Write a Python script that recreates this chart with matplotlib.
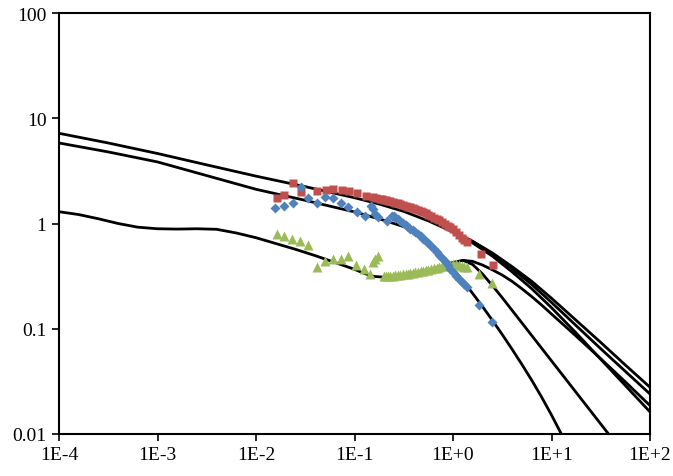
import numpy as np
import matplotlib.pyplot as plt

# model curves, stored as log10(x), log10(y)
# upper curve: common part, then three branches
a_lx = [-4, -3.5, -3, -2.5, -2, -1.5, -1, -0.75, -0.5, -0.25, 0]
a_ly = [0.857, 0.765, 0.665, 0.557, 0.45, 0.35, 0.245, 0.185, 0.115, 0.025, -0.08]
br_lx = [0, 0.2, 0.4, 0.6, 0.8, 1.0, 1.25, 1.5, 1.75, 2.0]
a1_ly = [-0.08, -0.17, -0.28, -0.41, -0.55, -0.71, -0.92, -1.13, -1.345, -1.556]
a2_ly = [-0.08, -0.17, -0.29, -0.43, -0.58, -0.75, -0.97, -1.19, -1.405, -1.62]
a3_ly = [-0.08, -0.185, -0.31, -0.46, -0.62, -0.80, -1.04, -1.29, -1.54, -1.79]

# middle curve, drops off steeply past 1
b_lx = [-4, -3.5, -3, -2.5, -2, -1.5, -1, -0.7, -0.5, -0.4, -0.3, -0.2, -0.1, 0,
        0.1, 0.2, 0.3, 0.4, 0.5, 0.6, 0.7, 0.8, 0.9, 1.0, 1.1, 1.2]
b_ly = [0.765, 0.68, 0.585, 0.455, 0.325, 0.22, 0.11, 0.03, -0.03, -0.07, -0.135,
        -0.22, -0.32, -0.43, -0.545, -0.665, -0.79, -0.92, -1.055, -1.195, -1.34,
        -1.49, -1.65, -1.82, -2.0, -2.19]

# lower curve with plateau and hump, then two branches
c_lx = [-4, -3.8, -3.6, -3.4, -3.2, -3, -2.8, -2.6, -2.4, -2.2, -2, -1.8, -1.6, -1.4,
        -1.2, -1, -0.9, -0.8, -0.7, -0.6, -0.5, -0.4, -0.3, -0.2, -0.1, 0, 0.1]
c_ly = [0.112, 0.085, 0.045, 0.0, -0.035, -0.05, -0.053, -0.05, -0.055, -0.09, -0.135,
        -0.19, -0.245, -0.305, -0.37, -0.435, -0.475, -0.503, -0.51, -0.505, -0.495,
        -0.48, -0.46, -0.43, -0.40, -0.37, -0.35]
c1_lx = [0.1, 0.2, 0.3, 0.4, 0.5, 0.6, 0.7, 0.8, 0.9, 1.0, 1.25, 1.5, 1.75, 2.0]
c1_ly = [-0.35, -0.36, -0.395, -0.44, -0.49, -0.55, -0.62, -0.695, -0.775, -0.86,
         -1.07, -1.285, -1.505, -1.73]
c2_lx = [0.1, 0.2, 0.3, 0.4, 0.5, 0.75, 1.0, 1.25, 1.5, 1.6, 1.7]
c2_ly = [-0.35, -0.39, -0.48, -0.59, -0.705, -1.005, -1.305, -1.605, -1.905, -2.025, -2.145]

# measured data
red_x = [0.0162, 0.0194, 0.024, 0.0286, 0.0419, 0.0513, 0.061, 0.0741, 0.0881, 0.105,
         0.131, 0.155, 0.165, 0.18, 0.19, 0.2, 0.21, 0.22, 0.23, 0.245, 0.26, 0.275,
         0.29, 0.31, 0.33, 0.35, 0.37, 0.39, 0.41, 0.44, 0.47, 0.5, 0.53, 0.56, 0.6,
         0.64, 0.68, 0.72, 0.77, 0.82, 0.88, 0.94, 1.0, 1.07, 1.14, 1.22, 1.3, 1.38,
         1.91, 2.57]
red_y = [1.73, 1.87, 2.41, 1.98, 2.02, 2.08, 2.13, 2.08, 2.02, 1.95,
         1.84, 1.77, 1.75, 1.72, 1.70, 1.68, 1.66, 1.64, 1.62, 1.60, 1.57, 1.55,
         1.53, 1.51, 1.48, 1.45, 1.42, 1.40, 1.38, 1.35, 1.31, 1.28, 1.25, 1.21, 1.17,
         1.13, 1.10, 1.07, 1.04, 1.00, 0.95, 0.92, 0.88, 0.83, 0.78, 0.73, 0.69, 0.66,
         0.51, 0.404]

blue_x = [0.0156, 0.0191, 0.0235, 0.0286, 0.0339, 0.0413, 0.0501, 0.0603, 0.0724,
          0.0865, 0.105, 0.128, 0.147, 0.153, 0.162, 0.174, 0.212, 0.238, 0.25, 0.26,
          0.275, 0.29, 0.31, 0.33, 0.35, 0.37, 0.39, 0.41, 0.44, 0.47, 0.5, 0.53, 0.56,
          0.6, 0.64, 0.68, 0.72, 0.77, 0.82, 0.88, 0.94, 1.0, 1.07, 1.14, 1.22, 1.3,
          1.38, 1.85, 2.51]
blue_y = [1.39, 1.48, 1.58, 2.21, 1.73, 1.56, 1.77, 1.73, 1.56,
          1.43, 1.29, 1.19, 1.48, 1.38, 1.23, 1.15, 1.06, 1.19, 1.17, 1.14,
          1.10, 1.05, 1.01, 0.97, 0.93, 0.89, 0.86, 0.83, 0.79, 0.76, 0.72, 0.68, 0.65,
          0.61, 0.57, 0.54, 0.50, 0.47, 0.44, 0.40, 0.37, 0.345, 0.32, 0.30, 0.28, 0.265,
          0.248, 0.168, 0.115]

green_x = [0.0162, 0.0192, 0.0234, 0.028, 0.0339, 0.0413, 0.0501, 0.0603, 0.0729,
           0.0865, 0.104, 0.126, 0.144, 0.153, 0.162, 0.172, 0.2, 0.21, 0.22, 0.23,
           0.245, 0.26, 0.275, 0.29, 0.31, 0.33, 0.35, 0.37, 0.39, 0.41, 0.44, 0.47,
           0.5, 0.53, 0.56, 0.6, 0.64, 0.68, 0.72, 0.77, 0.82, 0.88, 0.94, 1.0, 1.07,
           1.14, 1.22, 1.3, 1.38, 1.85, 2.51]
green_y = [0.79, 0.755, 0.71, 0.68, 0.625, 0.39, 0.44, 0.46, 0.46,
           0.49, 0.40, 0.37, 0.33, 0.43, 0.46, 0.49, 0.315, 0.316, 0.318, 0.319,
           0.32, 0.322, 0.324, 0.326, 0.328, 0.33, 0.333, 0.337, 0.34, 0.343, 0.347, 0.351,
           0.356, 0.36, 0.364, 0.37, 0.376, 0.381, 0.387, 0.393, 0.398, 0.403, 0.407, 0.41, 0.41,
           0.405, 0.398, 0.39, 0.384, 0.33, 0.272]

xticks = [1e-4, 1e-3, 1e-2, 1e-1, 1e0, 1e1, 1e2]
xlabels = ['1E-4', '1E-3', '1E-2', '1E-1', '1E+0', '1E+1', '1E+2']
yticks = [0.01, 0.1, 1, 10, 100]
ylabels = ['0.01', '0.1', '1', '10', '100']

plt.rcParams['font.family'] = ['Liberation Serif', 'DejaVu Serif']

fig = plt.figure(figsize=(6.73, 4.77), dpi=100)
ax = fig.add_axes([59/673, 42/477, 591/673, 421/477])

curves = [(a_lx, a_ly), (br_lx, a1_ly), (br_lx, a2_ly), (br_lx, a3_ly),
          (b_lx, b_ly), (c_lx, c_ly), (c1_lx, c1_ly), (c2_lx, c2_ly)]
for lx, ly in curves:
    ax.plot(10**np.array(lx), 10**np.array(ly), '-', color='black', lw=2.0,
            solid_joinstyle='round', solid_capstyle='round', zorder=2)

ax.plot(green_x, green_y, '^', color='#9BBB59', ms=6.5, mec='none', zorder=3)
ax.plot(blue_x, blue_y, 'D', color='#4F81BD', ms=5.5, mec='none', zorder=4)
ax.plot(red_x, red_y, 's', color='#C0504D', ms=6, mec='none', zorder=3)

ax.set_xscale('log')
ax.set_yscale('log')
ax.set_xlim(1e-4, 1e2)
ax.set_ylim(0.01, 100)
ax.set_xticks(xticks)
ax.set_xticklabels(xlabels)
ax.set_yticks(yticks)
ax.set_yticklabels(ylabels)
ax.minorticks_off()
ax.tick_params(direction='out', length=5, width=1.2, labelsize=14, pad=4)
for s in ax.spines.values():
    s.set_linewidth(1.5)

fig.savefig('out.png', dpi=100)
